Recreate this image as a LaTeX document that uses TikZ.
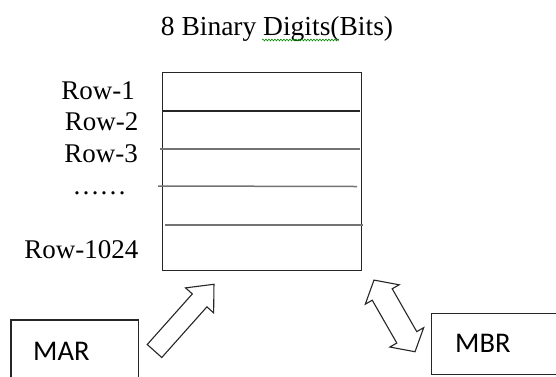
\documentclass[tikz,border=0pt]{standalone}
\usepackage{fontspec}
\setmainfont{Liberation Serif}
\newfontfamily\regfont{Carlito}
\usetikzlibrary{decorations.pathmorphing}

\begin{document}
\begin{tikzpicture}[x=1pt, y=-1pt,
    serif/.style={font=\fontsize{27}{30}\selectfont, inner sep=0pt},
    regtext/.style={font=\regfont\fontsize{28.5}{32}\selectfont, inner sep=0pt},
    regbox/.style={draw=black!85, line width=1.2pt, inner sep=0pt},
    rowline/.style={draw=black!55, line width=1.5pt},
    blockarrow/.style={draw=black!85, line width=1.1pt, fill=white, line join=miter},
    spellwave/.style={draw=green!55!black, line width=0.6pt, decorate,
      decoration={snake, amplitude=0.9pt, segment length=3pt}}]
  \useasboundingbox (0,0) rectangle (556,376);

  % title
  \node[serif, font=\fontsize{27.5}{30}\selectfont, anchor=base] (title) at (277,35) {8 Binary Digits(Bits)};
  \draw[spellwave] (262,40) -- (339,40);

  % memory
  \node[regbox, anchor=north west, minimum width=199pt, minimum height=198pt] (mem) at (162,72) {};
  \draw[regbox] (162,111) -- (360,111);
  \draw[rowline] (160,149) -- (360,149);
  \draw[rowline] (158,186) -- (357,186.5);
  \draw[rowline] (165,225) -- (363,225);

  \node[serif, anchor=base east] (row1) at (135,99) {Row-1};
  \node[serif, anchor=base east] (row2) at (138.5,130) {Row-2};
  \node[serif, anchor=base east] (row3) at (138,162) {Row-3};
  \node[serif, anchor=base] (rowdots) at (99.5,194) {……};
  \node[serif, anchor=base east] (rowlast) at (138.5,258) {Row-1024};

  % registers (cut off by the picture's edge)
  \node[inner sep=0pt, anchor=north west, minimum width=127.3pt, minimum height=60pt] (mar) at (11,320) {};
  \draw[regbox] (mar.south west) -- (mar.north west) -- (mar.north east) -- (mar.south east);
  \node[regtext, anchor=base west] (marname) at (33,360) {MAR};
  \node[inner sep=0pt, anchor=north west, minimum width=126pt, minimum height=60.7pt] (mbr) at (431.7,313.3) {};
  \draw[regbox] (mbr.north east) -- (mbr.north west) -- (mbr.south west) -- (mbr.south east);
  \node[regtext, anchor=base west] (mbrname) at (455,352) {MBR};

  % arrows
  \coordinate (martail) at (154.5,351);
  \begin{scope}[shift={(martail)}, rotate=48.3]
    \draw[blockarrow] (0,-9.75) -- (67.8,-9.75) -- (67.8,-18.8) -- (89.4,0)
      -- (67.8,18.8) -- (67.8,9.75) -- (0,9.75) -- cycle;
  \end{scope}
  \coordinate (mbrmid) at (394.5,315.9);
  \begin{scope}[shift={(mbrmid)}, rotate=119.8]
    \draw[blockarrow] (-41.3,0) -- (-24.7,-19.5) -- (-24.7,-11.5) -- (24.7,-11.5)
      -- (24.7,-19.5) -- (41.3,0) -- (24.7,19.5) -- (24.7,11.5) -- (-24.7,11.5)
      -- (-24.7,19.5) -- cycle;
  \end{scope}
\end{tikzpicture}
\end{document}
